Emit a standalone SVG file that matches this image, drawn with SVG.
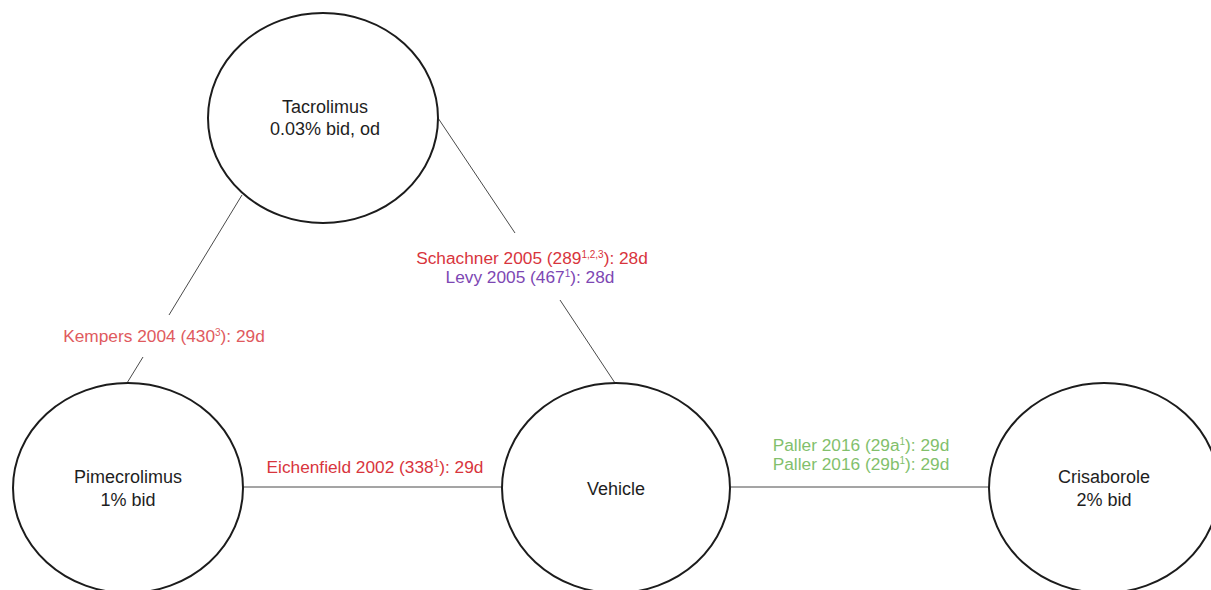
<svg xmlns="http://www.w3.org/2000/svg" width="1211" height="590" viewBox="0 0 1211 590">
<style>
.node{fill:#fff;stroke:#1c1c1c;stroke-width:2}
.nt{font-family:"Liberation Sans",Arial,sans-serif;font-size:18px;fill:#1e1e1e;text-anchor:middle}
.conn{stroke:#4a4a4a;stroke-width:1;fill:none}
.lbl{font-family:"Liberation Sans",Arial,sans-serif;font-size:17.3px;text-anchor:middle}
.red{fill:#d8353d}
.red2{fill:#e05a5e}
.pur{fill:#7d47b3}
.grn{fill:#82bf6c}
.sup{font-size:10px}
</style>
<rect width="1211" height="590" fill="#fff"/>
<g id="connectors">
<line class="conn" x1="242" y1="195" x2="169" y2="315"/>
<line class="conn" x1="143" y1="357" x2="127" y2="383"/>
<line class="conn" x1="438" y1="118" x2="515" y2="233"/>
<line class="conn" x1="560" y1="300" x2="615" y2="383"/>
<line class="conn" x1="243" y1="487" x2="502" y2="487"/>
<line class="conn" x1="730" y1="487" x2="989" y2="487"/>
</g>
<g id="labels">
<text class="lbl red2" x="164" y="342">Kempers 2004 (430<tspan class="sup" dy="-6">3</tspan><tspan dy="6">): 29d</tspan></text>
<text class="lbl red" x="532" y="264">Schachner 2005 (289<tspan class="sup" dy="-6">1,2,3</tspan><tspan dy="6">): 28d</tspan></text>
<text class="lbl pur" x="530" y="283">Levy 2005 (467<tspan class="sup" dy="-6">1</tspan><tspan dy="6">): 28d</tspan></text>
<text class="lbl red" x="375" y="473">Eichenfield 2002 (338<tspan class="sup" dy="-6">1</tspan><tspan dy="6">): 29d</tspan></text>
<text class="lbl grn" x="861" y="451">Paller 2016 (29a<tspan class="sup" dy="-6">1</tspan><tspan dy="6">): 29d</tspan></text>
<text class="lbl grn" x="861" y="470">Paller 2016 (29b<tspan class="sup" dy="-6">1</tspan><tspan dy="6">): 29d</tspan></text>
</g>
<g id="tacrolimus">
<ellipse class="node" cx="323" cy="118" rx="115" ry="105"/>
<text class="nt" x="325" y="113">Tacrolimus</text>
<text class="nt" x="325" y="135">0.03% bid, od</text>
</g>
<g id="pimecrolimus">
<ellipse class="node" cx="128" cy="488" rx="115" ry="105"/>
<text class="nt" x="128" y="483">Pimecrolimus</text>
<text class="nt" x="128" y="506">1% bid</text>
</g>
<g id="vehicle">
<ellipse class="node" cx="616" cy="488" rx="114" ry="105"/>
<text class="nt" x="616" y="495">Vehicle</text>
</g>
<g id="crisaborole">
<ellipse class="node" cx="1104" cy="488" rx="115" ry="105"/>
<text class="nt" x="1104" y="483">Crisaborole</text>
<text class="nt" x="1104" y="506">2% bid</text>
</g>
</svg>
